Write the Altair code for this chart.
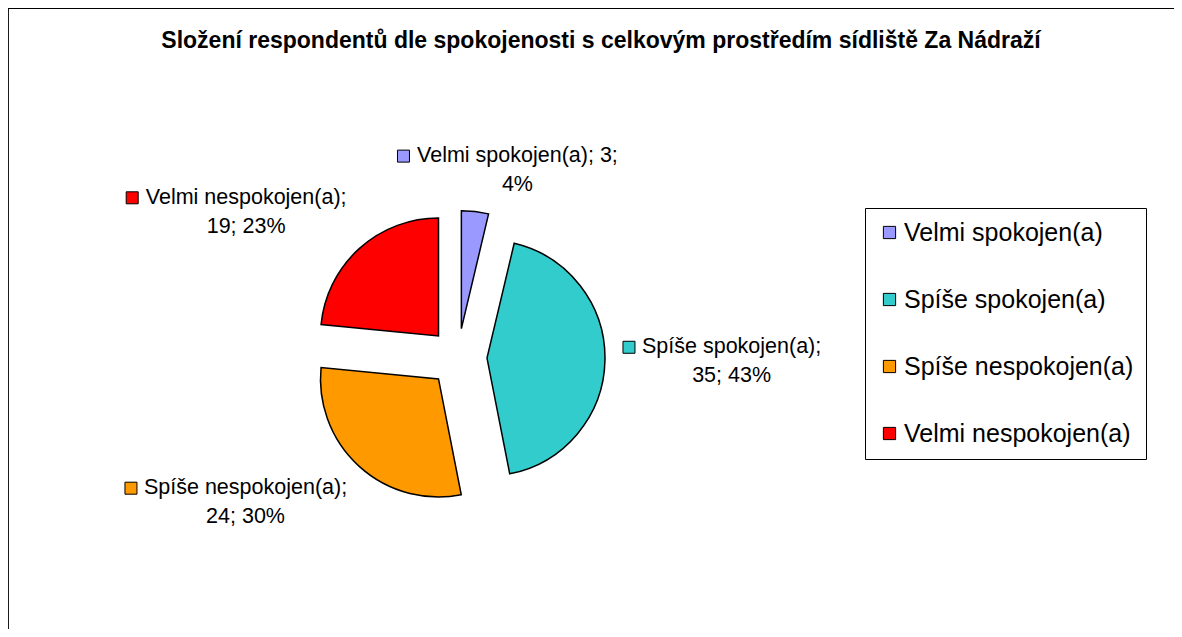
import math
import altair as alt
import pandas as pd

# ---- data ----
categories = ["Velmi spokojen(a)", "Spíše spokojen(a)", "Spíše nespokojen(a)", "Velmi nespokojen(a)"]
counts = [3, 35, 24, 19]
colors = ["#9999FF", "#33CCCC", "#FF9900", "#FF0000"]
value_on_first_line = [True, False, False, False]
title_text = "Složení respondentů dle spokojenosti s celkovým prostředím sídliště Za Nádraží"

# ---- layout ----
W, H = 1166, 621
CX, CY = 450, 349.5       # pie centre (before explosion)
R_PIE = 118
EXPLODE = 29
R_LABEL = 165
LABEL_FS = 21.5
LINE_H = 29
SQ = 12
GAP = 7
FONT = "Liberation Sans, Arial, Helvetica, sans-serif"

# Arial / Liberation Sans advance widths (1/1000 em) for label width estimation
ARIAL = {" ": 278, "V": 667, "S": 667, "e": 556, "l": 222, "m": 833, "i": 222, "í": 278,
         "s": 500, "š": 500, "p": 556, "o": 556, "k": 500, "j": 222, "n": 556, "(": 333,
         ")": 333, "a": 556, ";": 278, "%": 889}


def text_width(s, fs):
    return sum(ARIAL.get(ch, 556) for ch in s) * fs / 1000.0


total = sum(counts)
rows = []
for i, (c, v, first) in enumerate(zip(categories, counts, value_on_first_line)):
    pct = round(100 * v / total)
    if first:
        l1, l2 = f"{c}; {v};", f"{pct}%"
    else:
        l1, l2 = f"{c};", f"{v}; {pct}%"
    rows.append(dict(cat=c, value=v, order=i, label=l1 + "\n" + l2, w1=text_width(l1, LABEL_FS)))
df = pd.DataFrame(rows)

xs = alt.Scale(domain=[0, W], range=[0, W], nice=False, zero=False)
ys = alt.Scale(domain=[0, H], range=[0, H], nice=False, zero=False)
cscale = alt.Scale(domain=categories, range=colors)

base = (
    alt.Chart(df)
    .transform_window(cum="sum(value)", sort=[alt.SortField("order")], frame=[None, 0])
    .transform_calculate(start="datum.cum - datum.value")
    .transform_calculate(mid=f"2*PI*(datum.cum - datum.value/2)/{total}")
    .transform_calculate(cx=f"{CX} + {EXPLODE}*sin(datum.mid)")
    .transform_calculate(cy=f"{CY} - {EXPLODE}*cos(datum.mid)")
    .transform_calculate(bw=f"datum.w1 + {SQ + GAP}")
    .transform_calculate(
        bx=f"{CX} + {R_LABEL}*sin(datum.mid) + datum.bw/2*clamp(2.4*sin(datum.mid), -1, 1)"
    )
    .transform_calculate(
        by=f"{CY} - {R_LABEL}*cos(datum.mid) - {(LINE_H + 17) / 2}*clamp(2.4*cos(datum.mid), -1, 1)"
    )
    .transform_calculate(tx=f"datum.bx + {(SQ + GAP) / 2}")
    .transform_calculate(sqx=f"datum.bx - datum.bw/2 + {SQ / 2}")
    .transform_calculate(line1y=f"datum.by - {LINE_H / 2}")
)

pie = base.mark_arc(radius=R_PIE, stroke="black", strokeWidth=1.5, opacity=1).encode(
    x=alt.X("cx:Q", scale=xs, axis=None),
    y=alt.Y("cy:Q", scale=ys, axis=None),
    theta=alt.Theta("start:Q", stack=False,
                    scale=alt.Scale(domain=[0, total], range=[0, 2 * math.pi])),
    theta2="cum:Q",
    color=alt.Color(
        "cat:N",
        scale=cscale,
        sort=categories,
        legend=alt.Legend(
            title=None,
            orient="none",
            legendX=857,
            legendY=200,
            strokeColor="black",
            fillColor="white",
            padding=12,
            symbolType="square",
            symbolSize=150,
            symbolStrokeColor="black",
            symbolStrokeWidth=1,
            symbolOpacity=1,
            labelFont=FONT,
            labelFontSize=25,
            labelColor="black",
            labelLimit=400,
            labelOffset=2,
            rowPadding=41,
        ),
    ),
)

labels = base.mark_text(
    font=FONT, fontSize=LABEL_FS, lineHeight=LINE_H, lineBreak="\n",
    align="center", baseline="middle", color="black",
).encode(
    x=alt.X("tx:Q", scale=xs, axis=None),
    y=alt.Y("line1y:Q", scale=ys, axis=None),
    text="label:N",
)

squares = base.mark_point(
    shape="square", filled=True, size=144, stroke="black", strokeWidth=1, opacity=1
).encode(
    x=alt.X("sqx:Q", scale=xs, axis=None),
    y=alt.Y("line1y:Q", scale=ys, axis=None),
    fill=alt.Fill("cat:N", scale=cscale, legend=None),
)

frame_df = pd.DataFrame({"k": [0]})
top_border = alt.Chart(frame_df).mark_rule(color="black", strokeWidth=1.8).encode(
    x=alt.value(0), x2=alt.value(W + 20), y=alt.value(0)
)
left_border = alt.Chart(frame_df).mark_rule(color="black", strokeWidth=1.8).encode(
    x=alt.value(0), y=alt.value(0), y2=alt.value(H + 20)
)

chart = (
    alt.layer(top_border, left_border, pie, squares, labels)
    .properties(
        width=W,
        height=H,
        padding=0,
        autosize=alt.AutoSizeParams(type="none"),
        title=alt.TitleParams(
            title_text,
            font=FONT,
            fontSize=23,
            fontWeight="bold",
            color="black",
            anchor="middle",
            frame="group",
            baseline="alphabetic",
            offset=-64,
            dx=10,
        ),
        background="white",
    )
    .configure_view(strokeWidth=0)
)

chart.save("out.html", embed_options={"renderer": "svg", "actions": False})
